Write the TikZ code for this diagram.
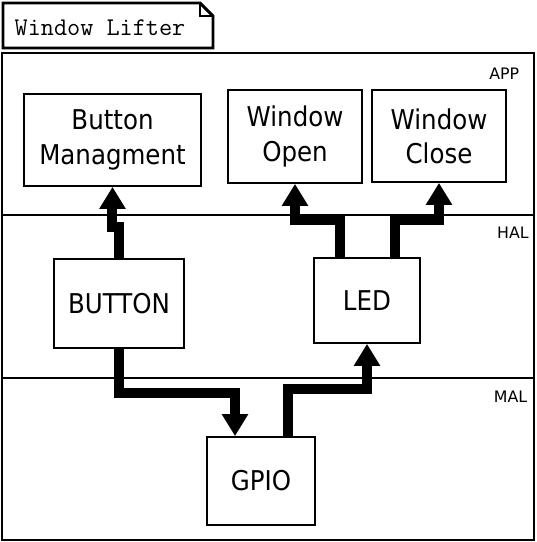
\documentclass[tikz,border=0pt]{standalone}
\usepackage{fontspec}
\setmainfont{DejaVu Sans}
\newfontfamily\blockfont[FakeStretch=0.9]{DejaVu Sans}
\usepackage{tikz}
\usetikzlibrary{positioning, arrows.meta, calc}

\begin{document}
\begin{tikzpicture}[
    block/.style={rectangle, draw, line width=1pt, align=center, font=\blockfont\fontsize{15.5}{19.5}\selectfont},
    layer/.style={anchor=east, inner sep=0pt, font=\fontsize{9}{10}\selectfont},
    arrow/.style={-{Triangle[width=0.5cm,length=0.44cm]}, line width=0.2cm}
]
    \useasboundingbox (0,0) rectangle (10.74,10.84);

    % title tab
    \draw[line width=1.7pt, line join=miter] (0.06,9.88) -- (0.06,10.78) -- (4.0,10.78) -- (4.26,10.52) -- (4.26,9.88) -- cycle;
    \draw[line width=1.2pt] (4.0,10.78) -- (4.0,10.52) -- (4.26,10.52);
    \node[font=\ttfamily\fontsize{14.5}{15}\selectfont] (title) at (2.0,10.29) {Window Lifter};

    % layers
    \draw[line width=1.1pt] (0.04,0.04) rectangle (10.68,9.78);
    \draw[line width=1pt] (0.04,6.54) -- (10.68,6.54);
    \draw[line width=1pt] (0.04,3.28) -- (10.68,3.28);
    \node[layer] (app) at (10.39,9.36) {APP};
    \node[layer] (hal) at (10.58,6.18) {HAL};
    \node[layer] (mal) at (10.55,2.9) {MAL};

    \node[block, minimum width=3.54cm, minimum height=1.84cm] (bm) at (2.25,8.04) {Button\\Managment};
    \node[block, minimum width=2.68cm, minimum height=1.86cm] (wo) at (5.9,8.11) {Window\\Open};
    \node[block, minimum width=2.68cm, minimum height=1.84cm] (wc) at (8.78,8.12) {Window\\Close};
    \node[block, minimum width=2.6cm, minimum height=1.78cm] (btn) at (2.38,4.77) {BUTTON};
    \node[block, minimum width=2.12cm, minimum height=1.7cm] (led) at (7.34,4.83) {LED};
    \node[block, minimum width=2.16cm, minimum height=1.76cm] (gpio) at (5.22,1.22) {GPIO};

    \draw[arrow] (btn.north) -- ++(0,0.62) -| (bm.south);
    \draw[arrow] ([xshift=-0.54cm]led.north) -- ++(0,0.74) -| (wo.south);
    \draw[arrow] ([xshift=0.56cm]led.north) -- ++(0,0.74) -| (wc.south);
    \draw[arrow] (btn.south) -- ++(0,-0.88) -| ([xshift=-0.52cm]gpio.north);
    \draw[arrow] ([xshift=0.54cm]gpio.north) -- ++(0,0.94) -| (led.south);
\end{tikzpicture}
\end{document}
